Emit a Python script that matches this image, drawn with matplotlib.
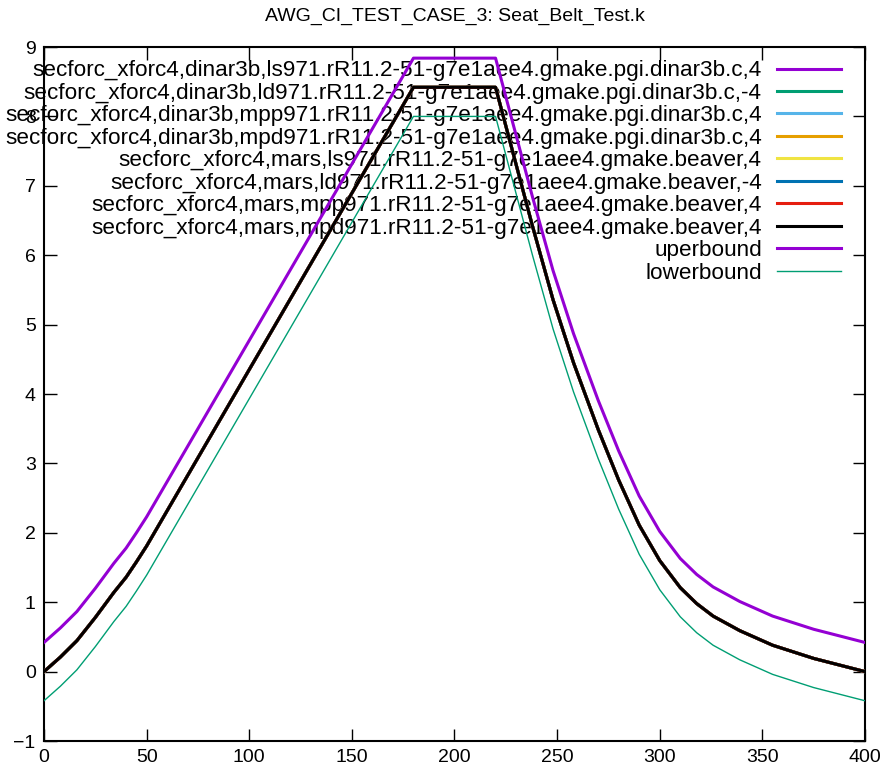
import matplotlib
matplotlib.use("Agg")
import matplotlib.pyplot as plt
import numpy as np

plt.rcParams['font.family'] = ['Liberation Sans', 'DejaVu Sans']

# curve (all 8 runs lie on top of each other)
t = [0, 8, 16, 25, 34, 40, 45, 50, 180, 220, 238, 248, 258, 270, 280,
     290, 300, 310, 318, 326, 339, 355, 375, 400]
force = [0.0, 0.21, 0.445, 0.78, 1.14, 1.36, 1.58, 1.81, 8.42, 8.42, 6.42,
         5.36, 4.45, 3.49, 2.76, 2.11, 1.60, 1.21, 0.98, 0.80, 0.59, 0.38,
         0.19, 0.0]
band = 0.42

runs = [
    "secforc_xforc4,dinar3b,ls971.rR11.2-51-g7e1aee4.gmake.pgi.dinar3b.c,4",
    "secforc_xforc4,dinar3b,ld971.rR11.2-51-g7e1aee4.gmake.pgi.dinar3b.c,-4",
    "secforc_xforc4,dinar3b,mpp971.rR11.2-51-g7e1aee4.gmake.pgi.dinar3b.c,4",
    "secforc_xforc4,dinar3b,mpd971.rR11.2-51-g7e1aee4.gmake.pgi.dinar3b.c,4",
    "secforc_xforc4,mars,ls971.rR11.2-51-g7e1aee4.gmake.beaver,4",
    "secforc_xforc4,mars,ld971.rR11.2-51-g7e1aee4.gmake.beaver,-4",
    "secforc_xforc4,mars,mpp971.rR11.2-51-g7e1aee4.gmake.beaver,4",
    "secforc_xforc4,mars,mpd971.rR11.2-51-g7e1aee4.gmake.beaver,4",
]
colors = ['#9400D3', '#009E73', '#56B4E9', '#E69F00',
          '#F0E442', '#0072B2', '#E51E10', '#000000']

t = np.array(t)
force = np.array(force)

fig = plt.figure(figsize=(8.91, 7.8), dpi=100)
ax = fig.add_axes([0.0494, 0.05, 0.9214, 0.8897])

for name, c in zip(runs, colors):
    ax.plot(t, force, color=c, lw=2.2, label=name, zorder=3)
ax.plot(t, force + band, color='#9400D3', lw=2.2, label='uperbound', zorder=3)
ax.plot(t, force - band, color='#009E73', lw=1.0, label='lowerbound', zorder=3)

ax.set_xlim(0, 400)
ax.set_ylim(-1, 9)
ax.set_xticks(np.arange(0, 401, 50))
ax.set_yticks(np.arange(-1, 10, 1))
ax.tick_params(direction='in', length=9, width=1, top=True, right=True,
               labelsize=14, pad=6)
for s in ax.spines.values():
    s.set_linewidth(1.5)

ax.set_title('AWG_CI_TEST_CASE_3: Seat_Belt_Test.k', fontsize=14, pad=19)

leg = ax.legend(loc='upper right', bbox_to_anchor=(0.9708, 0.9807), frameon=False,
                markerfirst=False, fontsize=16.2, handlelength=2.84,
                handletextpad=0.68, labelspacing=0.065, borderaxespad=0,
                borderpad=0)
leg.set_zorder(1)

fig.savefig('out.png', dpi=100)
